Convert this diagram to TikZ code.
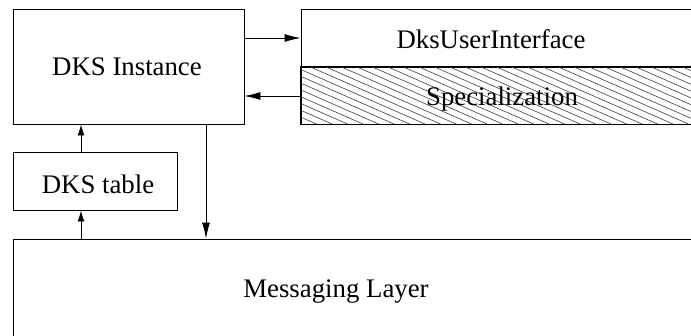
\documentclass[tikz,border=0pt]{standalone}
\usepackage{fontspec}
\setmainfont{Liberation Serif}
\usetikzlibrary{arrows.meta}
\tikzset{
  box/.style={draw=black, line width=0.9pt, rectangle, inner sep=0pt},
  lbl/.style={font=\fontsize{26.8}{32}\selectfont, inner sep=0pt, anchor=base},
  arr/.style={draw=black, line width=0.9pt, -{Latex[length=16pt,width=8pt]}},
  arrs/.style={draw=black, line width=0.9pt, -{Latex[length=11pt,width=7pt]}},
  hatch/.style={draw=black!75, line width=0.6pt}
}
\begin{document}
\begin{tikzpicture}[x=1pt,y=-1pt]
\useasboundingbox (0,0) rectangle (691,335);
\clip (0,0) rectangle (691,335);

% component boxes
\node[box, minimum width=231pt, minimum height=115pt] (inst) at (128.5,66.5) {};
\node[box, minimum width=599pt, minimum height=58pt] (ui) at (600.5,38) {};
\node[box, minimum width=599pt, minimum height=57pt] (spec) at (600.5,95.5) {};
\node[box, minimum width=164pt, minimum height=58pt] (tab) at (95,181) {};
\node[box, minimum width=887pt, minimum height=261pt] (msg) at (456.5,369.5) {};

% hatching of the specialization part
\begin{scope}
  \clip (spec.north west) rectangle (spec.south east);
  \foreach \i in {0,...,50} {
    \pgfmathsetmacro{\xa}{171+15.5*\i}
    \draw[hatch] (\xa,67) -- (\xa+130,124);
  }
\end{scope}
\draw[box] (spec.north west) rectangle (spec.south east);

% labels (placed on their baselines)
\node[lbl] (instl) at (127,75) {DKS Instance};
\node[lbl] (uil) at (491,48) {DksUserInterface};
\node[lbl] (specl) at (502,105) {Specialization};
\node[lbl] (tabl) at (98,193) {DKS table};
\node[lbl] (msgl) at (336,297) {Messaging Layer};

% connectors
\draw[arr] (inst.east |- 0,38) -- (ui.west |- 0,38);
\draw[arr] (spec.west |- 0,96) -- (inst.east |- 0,96);
\draw[arrs] (tab.north -| 81,0) -- (inst.south -| 81,0);
\draw[arrs] (msg.north -| 81,0) -- (tab.south -| 81,0);
\draw[arr] (inst.south -| 206,0) -- (msg.north -| 206,0);
\end{tikzpicture}
\end{document}
